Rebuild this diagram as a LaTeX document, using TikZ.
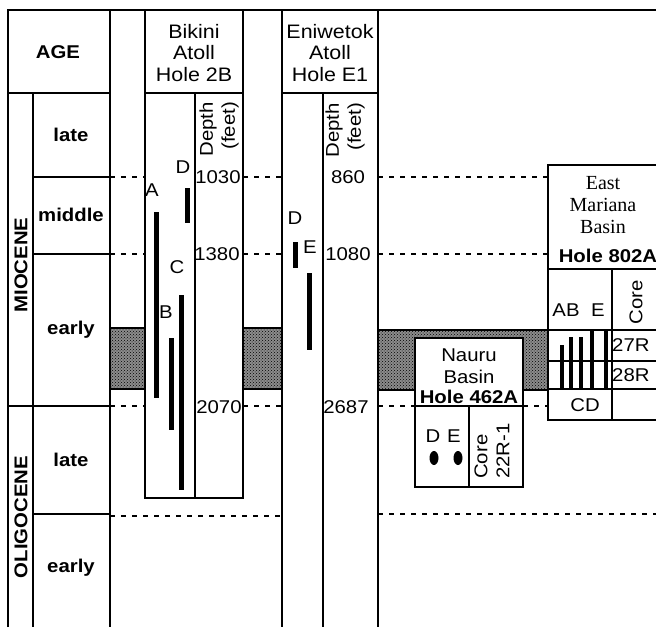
\documentclass[tikz,border=0pt]{standalone}
\usepackage{fontspec}
\setmainfont{Liberation Sans}[FakeStretch=1.1]
\newfontfamily\marianafont{Liberation Serif}
\usetikzlibrary{patterns}

\begin{document}
\begin{tikzpicture}[x=1pt,y=-1pt,
      frame/.style={line width=2pt},
      gapline/.style={line width=2.2pt,dash pattern=on 5pt off 6pt},
      shaded/.style={draw,line width=1.2pt,fill=black!45,
        postaction={pattern=crosshatch dots,pattern color=black}},
      rangebar/.style={line width=5pt},
      thinbar/.style={line width=4pt},
      txt/.style={inner sep=0pt,font=\fontsize{18.5}{22}\selectfont},
      hdr/.style={inner sep=0pt,font=\fontsize{19.5}{21.5}\selectfont},
      btxt/.style={inner sep=0pt,font=\fontsize{18.5}{22}\selectfont\bfseries},
      serif/.style={inner sep=0pt,font=\fontsize{20}{22}\selectfont\marianafont}
    ]
      \useasboundingbox (0,0) rectangle (656,627);
      % shaded interval
      \draw[shaded] (110,328) rectangle (145,389);
      \draw[shaded] (243,328) rectangle (282,389);
      \draw[shaded] (378,330) rectangle (548,390);
      % frame and columns
      \draw[frame] (8,627) -- (8,10) -- (662,10);
      \draw[frame] (110,10) -- (110,627);
      \draw[frame] (282,10) -- (282,627);
      \draw[frame] (378,10) -- (378,627);
      \draw[frame] (323,93) -- (323,627);
      \draw[frame] (33,93) -- (33,627);
      \draw[frame] (8,93) -- (110,93);
      \draw[frame] (8,406) -- (110,406);
      \foreach \yy in {177,254,514}
        \draw[frame] (33,\yy) -- (110,\yy);
      \draw[frame] (282,93) -- (378,93);
      % Bikini column
      \draw[frame,fill=white] (145,10) rectangle (243,498);
      \draw[frame] (145,93) -- (243,93);
      \draw[frame] (195,93) -- (195,498);
      % dotted boundaries
      \foreach \yy in {177,254,406} {
        \draw[gapline] (110,\yy) -- (145,\yy);
        \draw[gapline] (243,\yy) -- (282,\yy);
      }
      \draw[gapline] (378,177) -- (548,177);
      \draw[gapline] (378,254) -- (548,254);
      \draw[gapline] (378,406) -- (415,406);
      \draw[gapline] (523,406) -- (548,406);
      \draw[gapline] (110,516) -- (282,516);
      \draw[gapline] (378,514) -- (656,514);
      % age column
      \node[btxt] (age) at (58,52) {AGE};
      \node[btxt,rotate=90] (miocene) at (21,265) {MIOCENE};
      \node[btxt,rotate=90] (oligocene) at (21,517) {OLIGOCENE};
      \node[btxt] (mlate) at (71,135) {late};
      \node[btxt] (mmiddle) at (71,215) {middle};
      \node[btxt] (mearly) at (71,330) {early};
      \node[btxt] (olate) at (71,460) {late};
      \node[btxt] (oearly) at (71,568) {early};
      % Bikini Atoll
      \node[hdr,align=center] (bikini) at (194,53) {Bikini\\Atoll\\Hole 2B};
      \node[txt,rotate=90,anchor=east,align=right] (bdepth) at (219,102) {Depth\\(feet)};
      \node[txt] (b1030) at (218,177) {1030};
      \node[txt] (b1380) at (217,254) {1380};
      \node[txt] (b2070) at (219,407) {2070};
      \draw[rangebar] (156,212) -- (156,398);
      \draw[rangebar] (187,188) -- (187,223);
      \draw[rangebar] (181,295) -- (181,490);
      \draw[rangebar] (171,338) -- (171,430);
      \node[txt] (ba) at (152,190) {A};
      \node[txt] (bd) at (183,167) {D};
      \node[txt] (bc) at (177,267) {C};
      \node[txt] (bb) at (166,312) {B};
      % Eniwetok Atoll
      \node[hdr,align=center] (eniwetok) at (330,53) {Eniwetok\\Atoll\\Hole E1};
      \node[txt,rotate=90,anchor=east,align=right] (edepth) at (345,103) {Depth\\(feet)};
      \node[txt] (e860) at (348,177) {860};
      \node[txt] (e1080) at (348,254) {1080};
      \node[txt] (e2687) at (346,407) {2687};
      \draw[rangebar] (295,242) -- (295,268);
      \draw[rangebar] (309,273) -- (309,350);
      \node[txt] (ed) at (295,218) {D};
      \node[txt] (ee) at (310,247) {E};
      % Nauru Basin
      \draw[frame,fill=white] (415,338) rectangle (523,487);
      \draw[frame] (415,406) -- (523,406);
      \draw[frame] (469,406) -- (469,487);
      \node[txt] (nauru) at (469,355) {Nauru};
      \node[txt] (nbasin) at (469,377) {Basin};
      \node[btxt] (nhole) at (469,397) {Hole 462A};
      \node[txt] (nd) at (433,436) {D};
      \node[txt] (ne) at (454,436) {E};
      \fill (434,458) ellipse (4.5pt and 7pt);
      \fill (458,458) ellipse (4.5pt and 7pt);
      \node[txt,rotate=90,align=left] (ncore) at (492,451) {Core\\22R-1};
      % East Mariana Basin
      \draw[frame,fill=white] (548,165) rectangle (662,420);
      \draw[frame] (548,269) -- (662,269);
      \draw[frame] (612,269) -- (612,420);
      \foreach \yy in {330,361,389}
        \draw[frame] (548,\yy) -- (662,\yy);
      \node[serif,align=center] (mariana) at (603,205) {East\\Mariana\\Basin};
      \node[btxt] (mhole) at (608,256) {Hole 802A};
      \node[txt] (mab) at (566,310) {AB};
      \node[txt] (me) at (598,310) {E};
      \node[txt,rotate=90] (mcore) at (636,302) {Core};
      \node[txt,anchor=west] (m27) at (612,345) {27R};
      \node[txt,anchor=west] (m28) at (612,375) {28R};
      \node[txt] (mcd) at (585,405) {CD};
      \draw[thinbar] (562,345) -- (562,389);
      \draw[thinbar] (571,337) -- (571,389);
      \draw[thinbar] (581,337) -- (581,389);
      \draw[thinbar] (592,330) -- (592,389);
      \draw[thinbar] (606,330) -- (606,389);
    \end{tikzpicture}
\end{document}
